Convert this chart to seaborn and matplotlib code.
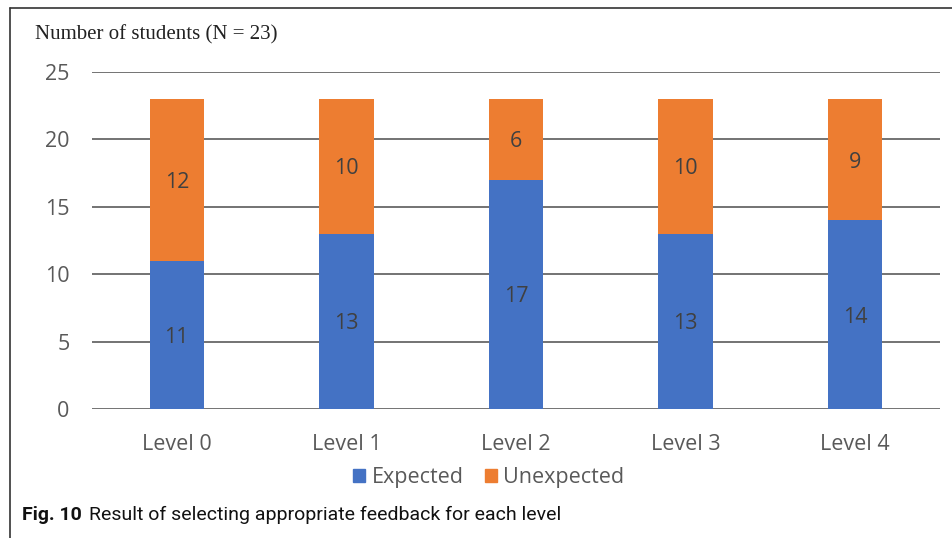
import matplotlib
matplotlib.use('Agg')
import matplotlib.pyplot as plt
import seaborn as sns
import pandas as pd
from matplotlib.patches import Patch

levels = ['Level 0', 'Level 1', 'Level 2', 'Level 3', 'Level 4']
expected = [11, 13, 17, 13, 14]
unexpected = [12, 10, 6, 10, 9]

blue = '#4472C4'
orange = '#ED7D31'

df = pd.DataFrame({'level': levels, 'expected': expected, 'unexpected': unexpected})
df['total'] = df['expected'] + df['unexpected']

sns.set_style('white')
plt.rcParams['font.family'] = ['Open Sans', 'DejaVu Sans']

fig = plt.figure(figsize=(9.53, 5.38), dpi=100)
ax = fig.add_axes([0.0965, 0.2398, 0.8899, 0.6264])

# stacked bars: totals (orange) underneath, expected (blue) on top
sns.barplot(data=df, x='level', y='total', color=orange, width=0.32,
            saturation=1, linewidth=0, ax=ax, zorder=3)
sns.barplot(data=df, x='level', y='expected', color=blue, width=0.32,
            saturation=1, linewidth=0, ax=ax, zorder=4)

ax.set_ylim(0, 25)
ax.set_yticks(range(0, 26, 5))
ax.set_xlim(-0.5, 4.5)
ax.set_xlabel('')
ax.set_ylabel('')
for s in ax.spines.values():
    s.set_visible(False)
ax.yaxis.grid(True, color='#4d4d4d', lw=1.1, zorder=1)
ax.tick_params(axis='both', length=0, labelsize=15.5, colors='#595959')
ax.tick_params(axis='y', pad=16)
ax.tick_params(axis='x', pad=18)

for i, row in df.iterrows():
    ax.text(i, row['expected'] / 2, str(row['expected']), ha='center',
            va='center_baseline', fontsize=15.5, color='#404040', zorder=5)
    ax.text(i, row['expected'] + row['unexpected'] / 2, str(row['unexpected']),
            ha='center', va='center_baseline', fontsize=15.5, color='#404040', zorder=5)

handles = [Patch(color=blue, label='Expected'), Patch(color=orange, label='Unexpected')]
leg = fig.legend(handles=handles, loc='center', bbox_to_anchor=(0.513, 0.113), ncol=2,
                 frameon=False, fontsize=15.5, handlelength=0.55, handleheight=0.55,
                 handletextpad=0.3, columnspacing=1.0)
for t in leg.get_texts():
    t.set_color('#595959')

fig.text(0.037, 0.935, 'Number of students (N = 23)', fontsize=15,
         family='Liberation Serif', color='#222222', va='center')

# figure frame (left and top edges)
fig.add_artist(plt.Line2D([0.0105, 0.0105], [0.0, 0.985], color='#333333', lw=1.2,
                          transform=fig.transFigure))
fig.add_artist(plt.Line2D([0.0105, 1.0], [0.985, 0.985], color='#333333', lw=1.2,
                          transform=fig.transFigure))

# caption
cap1 = fig.text(0.023, 0.043, 'Fig. 10', fontsize=14, fontweight='bold',
                family='Roboto', color='#111111', va='center')
fig.canvas.draw()
bb = cap1.get_window_extent()
x2 = (bb.x1 + 7) / fig.bbox.width
fig.text(x2, 0.043, 'Result of selecting appropriate feedback for each level', fontsize=14,
         family='Roboto', color='#111111', va='center')

plt.savefig('out.png', dpi=100)
